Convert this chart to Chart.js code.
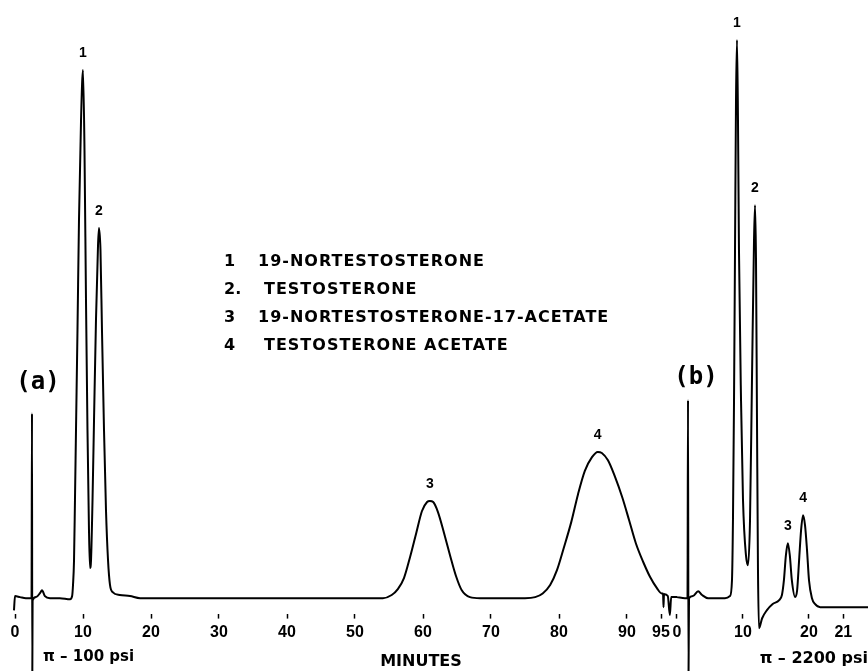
<!DOCTYPE html>
<html><head><meta charset="utf-8">
<script src="https://cdn.jsdelivr.net/npm/chart.js@4/dist/chart.umd.min.js"></script>
<style>
html,body{margin:0;padding:0;background:#fff;}
#wrap{position:relative;width:868px;height:671px;overflow:hidden;background:#fff;}
canvas{position:absolute;left:0;top:0;}
</style></head><body>
<div id="wrap"><canvas id="ca" width="868" height="671"></canvas><canvas id="cb" width="868" height="671"></canvas></div>
<script>
// ---- Panel (a): 100 psi — time (min) and detector response (arbitrary units, peak 1 = 100)
const timeA = [-0.15, 0, 0.74, 1.6, 2.43, 2.5, 2.54, 2.59, 3.1, 3.7, 3.97, 4.4, 5.15, 6.6, 8.1, 8.4, 8.53, 8.68, 8.82, 8.97, 9.19, 9.41, 9.71, 10.0, 10.22, 10.44, 10.66, 10.88, 11.03, 11.18, 11.4, 11.62, 11.91, 12.21, 12.35, 12.57, 12.79, 13.09, 13.38, 13.68, 13.97, 14.4, 15.4, 16.9, 18.4, 30, 40, 54.1, 55.4, 56.3, 57.2, 58.1, 59.0, 59.85, 60.6, 61.0, 61.5, 62.2, 63.1, 64.0, 64.85, 65.7, 66.9, 68.4, 75.0, 76.5, 77.6, 78.7, 79.7, 80.7, 81.8, 82.8, 83.8, 84.85, 85.7, 86.3, 87.2, 88.2, 89.3, 90.3, 91.3, 92.4, 93.4, 94.4, 95.1, 95.3, 95.37, 95.44, 96.0, 96.3, 96.5, 97.35];
const signalA = [-2.3, 0.4, 0.2, 0, 0, 35, -16, -0.4, 0.2, 1.0, 1.5, 0.4, 0, 0, -0.2, 0.4, 2.5, 7.2, 18.6, 31.8, 50.8, 71.6, 90.5, 100, 84.8, 56.4, 31.8, 12.9, 5.7, 7.2, 18.6, 33.7, 52.7, 66.9, 70.1, 65.9, 50.8, 31.8, 16.7, 7.2, 2.5, 1.1, 0.6, 0.4, 0, 0, 0, 0, 0.6, 1.7, 3.8, 7.8, 12.3, 16.5, 18.2, 18.4, 18.2, 16.3, 12.3, 8.0, 4.2, 1.5, 0.2, 0, 0, 0.2, 0.9, 2.5, 5.3, 9.5, 14.4, 19.7, 24.1, 26.7, 27.7, 27.5, 26.1, 23.1, 19.1, 14.8, 10.4, 6.8, 4.0, 1.9, 0.9, 0.9, -1.7, 0.8, 0.4, -3.2, 0.2, 0.2];
const tickValuesA = [0, 10, 20, 30, 40, 50, 60, 70, 80, 90, 95];
const tickLabelsA = ['0', '10', '20', '30', '40', '50', '60', '70', '80', '90', '95'];
const peakTimesA = [10.0, 12.35, 61.0, 85.7];

// ---- Panel (b): 2200 psi
const timeB = [0, 1.2, 1.59, 1.67, 1.74, 1.82, 2.42, 3.2, 3.8, 4.7, 7.27, 8.03, 8.33, 8.48, 8.64, 8.79, 8.94, 9.09, 9.24, 9.39, 9.7, 10.0, 10.45, 10.76, 11.06, 11.36, 11.67, 11.82, 11.97, 12.12, 12.27, 12.42, 12.9, 13.6, 14.5, 15.45, 15.9, 16.2, 16.5, 16.8, 17.1, 17.4, 17.9, 18.2, 18.5, 18.8, 19.1, 19.4, 19.7, 20.0, 20.45, 20.9, 21.7, 29];
const signalB = [0.2, 0, 0, 37.5, -16, 0, 0.4, 1.3, 0.6, 0, 0, 0.4, 3.4, 14.8, 37.5, 65.9, 94.3, 105.7, 90.5, 65.9, 37.5, 18.6, 8.1, 6.25, 14.6, 41.3, 67.8, 74.4, 64.0, 33.7, 5.3, -5.7, -3.8, -2.3, -1.1, -0.4, 0.6, 3.4, 8.1, 10.4, 8.0, 3.4, 0.2, 1.5, 7.2, 12.9, 15.7, 13.8, 9.1, 3.4, 0, -1.1, -1.7, -1.7];
const tickValuesB = [0, 10, 20, 25.2];
const tickLabelsB = ['0', '10', '20', '21'];
const peakTimesB = [9.09, 11.82, 16.8, 19.1];

// ---- Text
const peakNames = ['1', '2', '3', '4'];
const legendNumbers = ['1', '2.', '3', '4'];
const compoundNames = ['19-NORTESTOSTERONE', 'TESTOSTERONE', '19-NORTESTOSTERONE-17-ACETATE', 'TESTOSTERONE ACETATE'];
const panelNames = ['(a)', '(b)'];
const pressureA = '\u03C0 \u2013 100 psi';
const pressureB = '\u03C0 \u2013 2200 psi';
const axisTitle = 'MINUTES';

const Y_MIN = -2.92, Y_MAX = 113.26;
const TICK_FONT = {family: '"Liberation Sans", Arial, sans-serif', size: 16, weight: 'bold'};
const TITLE_FONT = {family: '"DejaVu Sans", sans-serif', size: 16, weight: 'bold'};

const annot = {
  id: 'annot',
  afterDatasetsDraw(chart, args, opts) {
    const ctx = chart.ctx, xs = chart.scales.x, ys = chart.scales.y;
    const pts = chart.data.datasets[0].data;
    ctx.save();
    ctx.fillStyle = '#000';
    ctx.textBaseline = 'middle';
    ctx.textAlign = 'center';
    ctx.font = 'bold 14px "Liberation Sans", Arial, sans-serif';
    opts.peaks.forEach((tp, i) => {
      let best = -Infinity;
      pts.forEach(p => { if (Math.abs(p.x - tp) <= 0.3 && p.y > best) best = p.y; });
      ctx.fillText(peakNames[i], xs.getPixelForValue(tp), ys.getPixelForValue(best) - 17);
    });
    (opts.texts || []).forEach(t => {
      ctx.font = t.font;
      ctx.textAlign = t.align || 'left';
      if ('letterSpacing' in ctx) ctx.letterSpacing = (t.spacing || 0) + 'px';
      ctx.fillText(t.text, t.x, t.y);
      if ('letterSpacing' in ctx) ctx.letterSpacing = '0px';
    });
    ctx.restore();
  }
};

function makeXScale(min, max, values, labels, title) {
  return {
    type: 'linear', min: min, max: max,
    afterBuildTicks: ax => { ax.ticks = values.map(v => ({value: v})); },
    ticks: {
      autoSkip: false, maxRotation: 0, padding: 4, color: '#000', font: TICK_FONT,
      callback: (v, i) => labels[i]
    },
    grid: {display: true, drawOnChartArea: false, drawTicks: true, tickLength: 5, tickWidth: 1.5, tickColor: '#000'},
    border: {display: false},
    title: title
  };
}

const legendFont = 'bold 16px "DejaVu Sans", sans-serif';
const legendRowsY = [262, 290, 318, 346];
const legendTextX = [258, 264, 258, 264];
const textsA = [
  {text: panelNames[0], x: 38, y: 383, align: 'center', font: 'bold 24px "DejaVu Sans Mono", monospace'},
  {text: pressureA, x: 43, y: 657, align: 'left', font: 'bold 15px "DejaVu Sans", sans-serif'}
];
legendNumbers.forEach((n, i) => {
  textsA.push({text: n, x: 224, y: legendRowsY[i], align: 'left', font: legendFont});
  textsA.push({text: compoundNames[i], x: legendTextX[i], y: legendRowsY[i], align: 'left', font: legendFont, spacing: 1});
});
const textsB = [
  {text: panelNames[1], x: 696, y: 378, align: 'center', font: 'bold 24px "DejaVu Sans Mono", monospace'}
];

function lineDataset(ts, vs) {
  return {
    data: ts.map((t, i) => ({x: t, y: vs[i]})),
    borderColor: '#000', borderWidth: 2, pointRadius: 0,
    cubicInterpolationMode: 'monotone', clip: false, fill: false
  };
}

const common = {
  responsive: false, animation: false, devicePixelRatio: 1,
  plugins: {legend: {display: false}, tooltip: {enabled: false}}
};

new Chart(document.getElementById('ca'), {
  type: 'line',
  data: {datasets: [lineDataset(timeA, signalA)]},
  options: Object.assign({}, common, {
    layout: {padding: {left: 0, right: 26, top: 0, bottom: 0}},
    scales: {
      x: makeXScale(-15 / 6.8, (842 - 15) / 6.8, tickValuesA, tickLabelsA,
        {display: true, text: axisTitle, color: '#000', font: TITLE_FONT, padding: {top: 6, bottom: 0}}),
      y: {display: false, min: Y_MIN, max: Y_MAX}
    },
    plugins: Object.assign({}, common.plugins, {annot: {peaks: peakTimesA, texts: textsA}})
  }),
  plugins: [annot]
});

new Chart(document.getElementById('cb'), {
  type: 'line',
  data: {datasets: [lineDataset(timeB, signalB)]},
  options: Object.assign({}, common, {
    layout: {padding: 0},
    scales: {
      x: makeXScale(-677 / 6.6, (868 - 677) / 6.6, tickValuesB, tickLabelsB,
        {display: true, text: pressureB, align: 'end', color: '#000', font: TITLE_FONT, padding: {top: 3, bottom: 3}}),
      y: {display: false, min: Y_MIN, max: Y_MAX}
    },
    plugins: Object.assign({}, common.plugins, {annot: {peaks: peakTimesB, texts: textsB}})
  }),
  plugins: [annot]
});
</script>
</body></html>
